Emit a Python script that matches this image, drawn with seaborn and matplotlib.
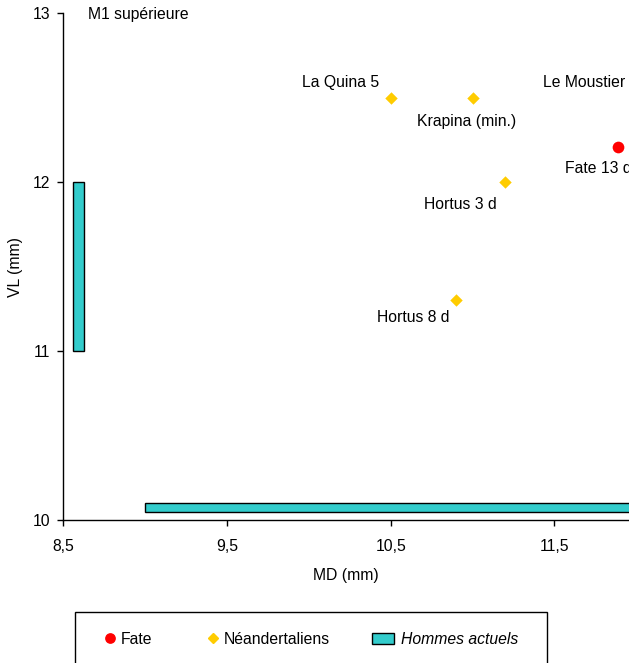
import matplotlib
matplotlib.use("Agg")
import matplotlib.pyplot as plt
import matplotlib.patches as mpatches
import matplotlib.lines as mlines
from matplotlib.legend_handler import HandlerPatch
import seaborn as sns
import pandas as pd

# Fate specimen (MD, VL in mm)
fate_names = ["Fate 13 d"]
fate_md = [11.89]
fate_vl = [12.21]

# Neanderthal specimens
nea_names = ["La Quina 5", "Krapina (min.)", "Hortus 3 d", "Hortus 8 d", "Le Moustier"]
nea_md = [10.50, 11.00, 11.20, 10.90, 12.00]
nea_vl = [12.50, 12.50, 12.00, 11.30, 12.50]

# modern humans ranges
modern_vl_range = [11.0, 12.0]
modern_md_range = [9.0, 12.5]

x_ticks = [8.5, 9.5, 10.5, 11.5]
x_tick_labels = ["8,5", "9,5", "10,5", "11,5"]
y_ticks = [10, 11, 12, 13]

# label offsets (points) and alignment, same order as the names
fate_offsets = [(-38, -16, "left")]
nea_offsets = [(-8, 11, "right"), (-4, -17, "center"), (-6, -16, "right"),
               (-5, -12, "right"), (-8, 11, "right")]

sns.set_style("ticks")
plt.rcParams["font.family"] = ["Liberation Sans", "DejaVu Sans"]
plt.rcParams["font.size"] = 11.3
for k in ["text.color", "axes.labelcolor", "xtick.color", "ytick.color"]:
    plt.rcParams[k] = "black"

teal = "#33CCCC"
gold = "#FFCC00"

fig = plt.figure(figsize=(6.29, 6.63), dpi=100)
ax = fig.add_axes([63.3 / 629, 143 / 663, 1 - 63.3 / 629, 506.7 / 663])

# modern human ranges as bars
ax.bar(x=[8.594], height=[modern_vl_range[1] - modern_vl_range[0]],
       bottom=[modern_vl_range[0]], width=0.064, color=teal,
       edgecolor="black", linewidth=1, zorder=2)
ax.barh(y=[10.075], width=[modern_md_range[1] - modern_md_range[0]],
        left=[modern_md_range[0]], height=0.056, color=teal,
        edgecolor="black", linewidth=1, zorder=2)

nea = pd.DataFrame({"MD": nea_md, "VL": nea_vl, "name": nea_names})
fate = pd.DataFrame({"MD": fate_md, "VL": fate_vl, "name": fate_names})

sns.scatterplot(data=nea, x="MD", y="VL", marker="D", color=gold, s=40,
                linewidth=0, ax=ax, zorder=3)
sns.scatterplot(data=fate, x="MD", y="VL", marker="o", color="red", s=71,
                linewidth=0, ax=ax, zorder=3)

for df, offs in [(nea, nea_offsets), (fate, fate_offsets)]:
    for (_, row), (dx, dy, ha) in zip(df.iterrows(), offs):
        ax.annotate(row["name"], (row["MD"], row["VL"]), xytext=(dx, dy),
                    textcoords="offset points", ha=ha, va="center",
                    annotation_clip=False, clip_on=False)

ax.set_xlim(8.5, 8.5 + 565.7 / 163.7)
ax.set_ylim(10, 13)
ax.set_xticks(x_ticks)
ax.set_xticklabels(x_tick_labels)
ax.set_yticks(y_ticks)
ax.tick_params(axis="both", direction="out", length=4, width=1, color="black",
               labelsize=11.3)
ax.tick_params(axis="x", pad=10)
ax.tick_params(axis="y", pad=5.5)
sns.despine(ax=ax)
for s in ["left", "bottom"]:
    ax.spines[s].set_color("black")
    ax.spines[s].set_linewidth(1)

ax.set_xlabel("MD (mm)", fontsize=11.3, labelpad=10)
ax.set_ylabel("VL (mm)", fontsize=11.3, labelpad=7)
ax.text(0.044, 0.998, "M1 supérieure", transform=ax.transAxes,
        ha="left", va="center", fontsize=11.3)


# wide rectangle handle that reaches left of the (narrow) handle box
def wide_rect(legend, orig_handle, xdescent, ydescent, width, height, fontsize):
    return mpatches.Rectangle((-xdescent + width - 17.4, -ydescent), 15.8, height)


handles = [
    mlines.Line2D([], [], marker="o", color="red", linestyle="None", markersize=6.7),
    mlines.Line2D([], [], marker="D", color=gold, linestyle="None", markersize=5.1),
    mpatches.Patch(facecolor=teal, edgecolor="black", linewidth=1),
]
leg = fig.legend(handles, ["Fate", "Néandertaliens", "Hommes actuels"],
                 loc="center left", bbox_to_anchor=(104 / 629, 24 / 663), ncol=3,
                 frameon=False, borderpad=0, borderaxespad=0,
                 handlelength=0.75, handletextpad=0.3, columnspacing=3.5,
                 fontsize=11.3,
                 handler_map={mpatches.Patch: HandlerPatch(patch_func=wide_rect)})
leg.get_texts()[2].set_style("italic")

# legend frame, runs past the bottom edge like the original
fig.patches.append(mpatches.Rectangle((75 / 629, -3 / 663), 472 / 629, 54 / 663,
                                      transform=fig.transFigure, fill=False,
                                      edgecolor="black", linewidth=1))

fig.savefig("out.png", dpi=100)
